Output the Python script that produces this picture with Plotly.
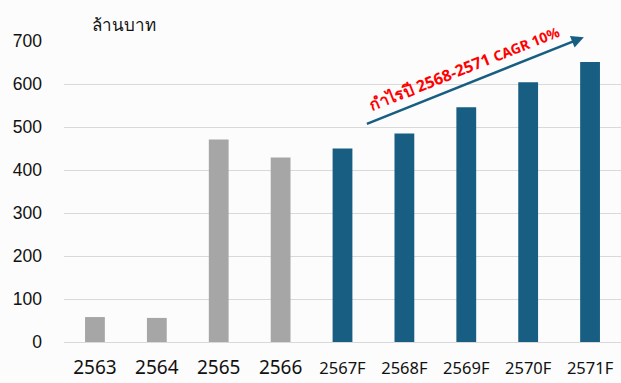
import plotly.graph_objects as go

years = ["2563", "2564", "2565", "2566", "2567F", "2568F", "2569F", "2570F", "2571F"]
profit = [58, 56, 471, 429, 450, 485, 546, 604, 651]
is_forecast = [False, False, False, False, True, True, True, True, True]

GRAY = "#a6a6a6"
BLUE = "#175e82"
colors = [BLUE if f else GRAY for f in is_forecast]
ticktext = [f"<span style='font-size:16.5px'>{y}</span>" if f else f"<span style='font-size:19px'>{y}</span>"
            for y, f in zip(years, is_forecast)]

fig = go.Figure(go.Bar(x=years, y=profit, marker_color=colors, marker_line_width=0))

fig.update_layout(
    width=621, height=383,
    margin=dict(l=64, r=0, t=41, b=41),
    paper_bgcolor="#fcfcfc", plot_bgcolor="#fcfcfc",
    bargap=0.68,
    showlegend=False,
    font=dict(family="Noto Sans, DejaVu Sans, sans-serif", color="#111111"),
    xaxis=dict(tickmode="array", tickvals=years, ticktext=ticktext,
               showgrid=False, showline=False, ticks="", ticklabelstandoff=14,
               tickfont=dict(size=17, family="Noto Sans")),
    yaxis=dict(range=[0, 700], dtick=100, showgrid=True, gridcolor="#d9d9d9", gridwidth=1,
               zeroline=True, zerolinecolor="#d9d9d9", zerolinewidth=1,
               ticks="", ticklabelstandoff=21,
               tickfont=dict(size=17.5, family="Liberation Sans, Arial, sans-serif")),
)

fig.add_annotation(xref="paper", yref="paper", x=0.047, y=1.0, xanchor="left", yanchor="bottom",
                   yshift=3, text="ล้านบาท", showarrow=False,
                   font=dict(size=17, family="Noto Sans, DejaVu Sans", color="#111111"))

# arrow
fig.add_annotation(x=7.9, y=709, ax=4.37, ay=506, xref="x", yref="y", axref="x", ayref="y",
                   text="", showarrow=True, arrowhead=2, arrowsize=1, arrowwidth=2.5,
                   arrowcolor=BLUE)
# label
fig.add_annotation(x=5.97, y=637, xref="x", yref="y", showarrow=False, textangle=-21.7,
                   text="<b>กำไรปี 2568-2571 <span style='font-size:14px'>CAGR 10%</span></b>",
                   font=dict(size=16, color="#ff0000", family="Noto Sans, DejaVu Sans"))

fig.write_html("out.html")
